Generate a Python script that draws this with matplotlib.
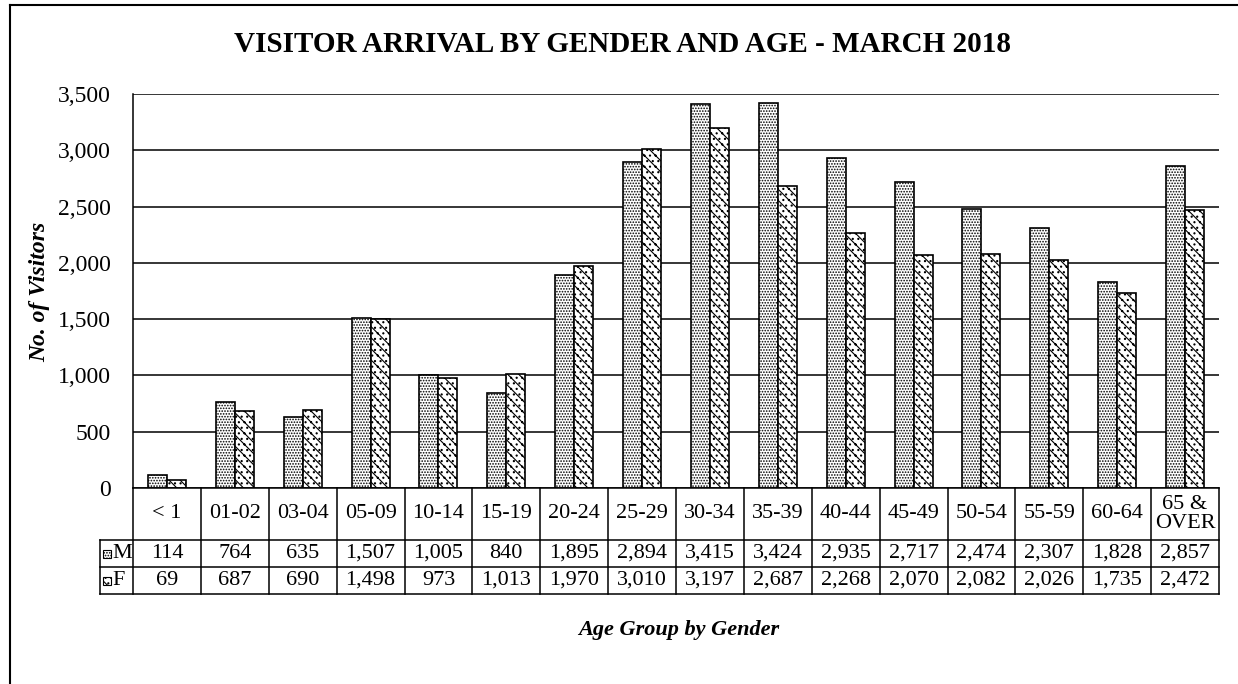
import numpy as np
import matplotlib.pyplot as plt
import matplotlib.transforms as mtransforms
from matplotlib.lines import Line2D
from matplotlib.patches import Rectangle

age_groups = ["< 1", "01-02", "03-04", "05-09", "10-14", "15-19", "20-24", "25-29",
              "30-34", "35-39", "40-44", "45-49", "50-54", "55-59", "60-64", "65 &\nOVER"]
male = [114, 764, 635, 1507, 1005, 840, 1895, 2894, 3415, 3424, 2935, 2717, 2474, 2307, 1828, 2857]
female = [69, 687, 690, 1498, 973, 1013, 1970, 3010, 3197, 2687, 2268, 2070, 2082, 2026, 1735, 2472]
y_ticks = [0, 500, 1000, 1500, 2000, 2500, 3000, 3500]

plt.rcParams['font.family'] = ['Liberation Serif', 'DejaVu Serif']
plt.rcParams['hatch.linewidth'] = 0.8

W, H = 1238, 684
fig = plt.figure(figsize=(W / 100, H / 100), dpi=100)
ax = fig.add_axes([133 / W, 1 - 488 / H, (1219 - 133) / W, (488 - 94) / H])

x = np.arange(len(age_groups))
bw = 0.28
ax.bar(x - bw / 2, male, bw, color='white', edgecolor='black', hatch='......', linewidth=1.2)
ax.bar(x + bw / 2, female, bw, color='white', edgecolor='black', hatch='\\\\\\...', linewidth=1.2)

ax.set_xlim(-0.5, len(age_groups) - 0.5)
ax.set_ylim(0, 3500)
ax.set_yticks(y_ticks)
ax.set_yticklabels([f"{v:,}" for v in y_ticks], fontsize=17)
ax.set_xticks([])
ax.tick_params(axis='y', length=0, pad=16)
ax.yaxis.grid(True, color='black', linewidth=1.1)
ax.set_axisbelow(True)
for s in ['top', 'right']:
    ax.spines[s].set_visible(False)
ax.spines['left'].set_linewidth(1.1)
ax.spines['bottom'].set_linewidth(1.1)

# data table under the chart
y_top = 1 - 488 / H
y1 = 1 - 540 / H
y2 = 1 - 567 / H
y3 = 1 - 594 / H
hdr_left = -(133 - 100) / (1219 - 133)
tx = mtransforms.blended_transform_factory(ax.transData, fig.transFigure)
ta = mtransforms.blended_transform_factory(ax.transAxes, fig.transFigure)

for i in range(len(age_groups) + 1):
    fig.add_artist(Line2D([i - 0.5, i - 0.5], [y_top, y3], transform=tx, color='black', lw=1.1))
fig.add_artist(Line2D([hdr_left, hdr_left], [y1, y3], transform=ta, color='black', lw=1.1))
for yy in [y1, y2, y3]:
    fig.add_artist(Line2D([hdr_left, 1], [yy, yy], transform=ta, color='black', lw=1.1))

for i, lab in enumerate(age_groups):
    fig.text(i, (y_top + y1) / 2, lab, transform=tx, ha='center', va='center', fontsize=16,
             linespacing=0.95)
    fig.text(i, (y1 + y2) / 2, f"{male[i]:,}", transform=tx, ha='center', va='center', fontsize=16)
    fig.text(i, (y2 + y3) / 2, f"{female[i]:,}", transform=tx, ha='center', va='center', fontsize=16)

icon_w = 8 / (1219 - 133)
icon_x = -(133 - 103) / (1219 - 133)
for (yy_lo, yy_hi), name, hatch in [((y2, y1), "M", '......'), ((y3, y2), "F", '\\\\\\...')]:
    mid = (yy_lo + yy_hi) / 2
    fig.add_artist(Rectangle((icon_x, mid - 4 / H), icon_w, 8 / H, transform=ta,
                             facecolor='white', edgecolor='black', hatch=hatch, lw=0.8))
    fig.text(icon_x + icon_w + 1 / (1219 - 133), mid, name, transform=ta, ha='left', va='center',
             fontsize=16)

fig.text(622 / W, 1 - 45 / H, "VISITOR ARRIVAL BY GENDER AND AGE - MARCH 2018",
         ha='center', va='center', fontsize=21, fontweight='bold')
fig.text(40 / W, 1 - 292 / H, "No. of Visitors", rotation=90, ha='center', va='center',
         fontsize=17, fontweight='bold', style='italic')
fig.text(679 / W, 1 - 630 / H, "Age Group by Gender", ha='center', va='center',
         fontsize=16, fontweight='bold', style='italic')

# outer frame of the scanned page
fig.add_artist(Line2D([10 / W, 10 / W], [0, 1 - 5 / H], transform=fig.transFigure, color='black', lw=1.5))
fig.add_artist(Line2D([10 / W, 1], [1 - 5 / H, 1 - 5 / H], transform=fig.transFigure, color='black', lw=1.5))

fig.savefig("out.png", dpi=100)
